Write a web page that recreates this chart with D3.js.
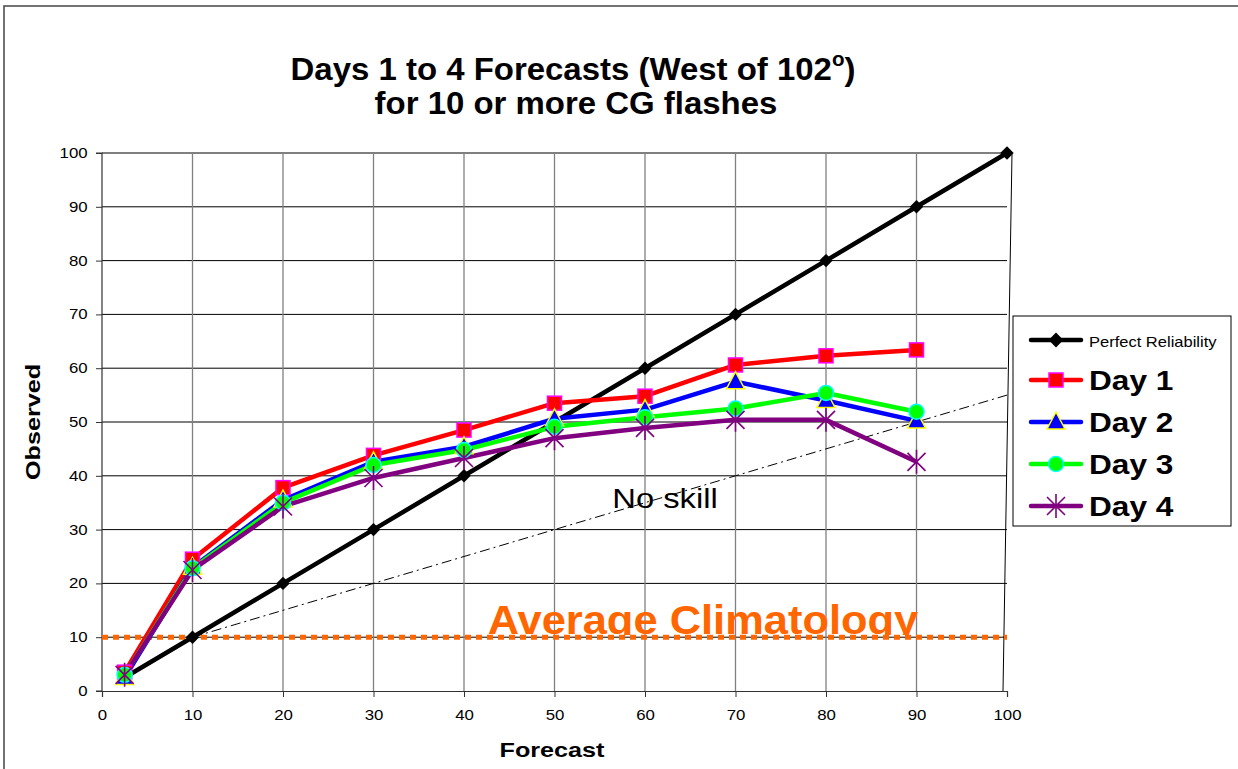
<!DOCTYPE html>
<html><head><meta charset="utf-8">
<script src="https://cdn.jsdelivr.net/npm/d3@7/dist/d3.min.js"></script>
<style>body{margin:0;background:#fff;}svg{display:block;font-family:Arial,"Liberation Sans",sans-serif;}</style>
</head><body>
<script>
const forecast = [2.5,10,20,30,40,50,60,70,80,90];
const perfectX = [2.5,10,20,30,40,50,60,70,80,90,100];
const perfectY = [2.5,10,20,30,40,50,60,70,80,90,100];
const day1 = [3.5,24.5,37.8,43.8,48.5,53.5,54.8,60.6,62.3,63.4];
const day2 = [2.5,23,35.5,42.6,45.4,50.6,52.3,57.5,54,50.2];
const day3 = [3,22.8,35,42,44.8,49.1,50.9,52.5,55.4,51.9];
const day4 = [3,22.5,34.3,39.6,43.3,47,48.9,50.4,50.4,42.6];
const noSkillX = [10,100];
const noSkillY = [10,55];
const climatology = 10;
const xTicks = [0,10,20,30,40,50,60,70,80,90,100];
const yTicks = [0,10,20,30,40,50,60,70,80,90,100];
const seriesNames = ["Day 1","Day 2","Day 3","Day 4"];

const W=1238,H=769;
const svg=d3.select("body").append("svg").attr("width",W).attr("height",H);
const x=d3.scaleLinear().domain([0,100]).range([102,1007]);
const y=d3.scaleLinear().domain([0,100]).range([691,153]);

function txt(parent,tx,ty,str,size,opts={}){
  const gg=parent.append("g").attr("transform",`translate(${tx},${ty})${opts.rotate?` rotate(${opts.rotate})`:""} scale(${opts.sx||1},1)`);
  const t=gg.append("text").attr("font-size",size).attr("text-anchor",opts.anchor||"start")
    .attr("font-weight",opts.bold?"bold":"normal").attr("fill",opts.fill||"#000");
  if(opts.clip) t.attr("clip-path",opts.clip);
  if(str!==null) t.text(str);
  return t;
}

// outer frame
svg.append("path").attr("d",`M4,${H} L4,6 L${W},6`).attr("fill","none").attr("stroke","#444").attr("stroke-width",1.5);

// title
const t=txt(svg,573,80,null,32,{anchor:"middle",bold:true,sx:1.03});
t.append("tspan").text("Days 1 to 4 Forecasts (West of 102");
t.append("tspan").attr("font-size",20).attr("dy",-14).text("o");
t.append("tspan").attr("dy",14).text(")");
txt(svg,576,114,"for 10 or more CG flashes",32,{anchor:"middle",bold:true,sx:1.03});

// grid
const g=svg.append("g");
g.selectAll(".hg").data(yTicks.filter(d=>d>0)).join("line").attr("x1",x(0)).attr("x2",x(100)).attr("y1",d=>y(d)).attr("y2",d=>y(d)).attr("stroke","#000").attr("stroke-width",1);
g.selectAll(".vg").data(xTicks.filter(d=>d>0&&d<100)).join("line").attr("y1",y(0)).attr("y2",y(100)).attr("x1",d=>x(d)).attr("x2",d=>x(d)).attr("stroke","#808080").attr("stroke-width",1.3);
g.append("line").attr("x1",x(100)+5).attr("y1",y(100)).attr("x2",x(100)-4).attr("y2",y(0)).attr("stroke","#000").attr("stroke-width",1);

// axes
const xa=svg.append("g").attr("transform",`translate(0,${y(0)})`).call(d3.axisBottom(x).tickValues(xTicks).tickSize(6).tickPadding(13));
const ya=svg.append("g").attr("transform",`translate(${x(0)},0)`).call(d3.axisLeft(y).tickValues(yTicks).tickSize(6).tickPadding(6));
[xa,ya].forEach(a=>{a.select(".domain").attr("stroke","#333").attr("stroke-width",1.2);a.selectAll(".tick line").attr("stroke","#333");a.selectAll("text").attr("font-size",14).attr("font-family","Arial,'Liberation Sans',sans-serif").attr("fill","#000").attr("transform","scale(1.2,1)");});
ya.select(".domain").attr("d",`M-6,${y(100)}H0V${y(0)}H-6`);

txt(svg,552,757,"Forecast",21,{anchor:"middle",bold:true,sx:1.2});
txt(svg,40,422,"Observed",21,{anchor:"middle",bold:true,sx:1.2,rotate:-90});

// no skill line
svg.append("line").attr("x1",x(noSkillX[0])).attr("y1",y(noSkillY[0])).attr("x2",x(noSkillX[1])).attr("y2",y(noSkillY[1])).attr("stroke","#000").attr("stroke-width",1).attr("stroke-dasharray","10,4,2,4");
txt(svg,665,508,"No skill",28,{anchor:"middle",sx:1.17});

// climatology text clipped at line
svg.append("clipPath").attr("id","clipC").attr("clipPathUnits","userSpaceOnUse").append("rect").attr("x",-500).attr("y",-100).attr("width",1000).attr("height",101);
txt(svg,703,634,"Average Climatology",41,{anchor:"middle",bold:true,sx:1.06,fill:"#ff6600",clip:"url(#clipC)"});
svg.append("line").attr("x1",x(0)).attr("x2",x(100)).attr("y1",y(climatology)).attr("y2",y(climatology)).attr("stroke","#ff6600").attr("stroke-width",5).attr("stroke-dasharray","6,5");

// perfect reliability
const line=d3.line().x(d=>x(d[0])).y(d=>y(d[1]));
const pr=perfectX.map((v,i)=>[v,perfectY[i]]);
svg.append("path").attr("d",line(pr)).attr("fill","none").attr("stroke","#000").attr("stroke-width",4.5);
svg.selectAll(".pd").data(pr.slice(1)).join("path").attr("transform",d=>`translate(${x(d[0])},${y(d[1])}) rotate(45)`).attr("d",d3.symbol().type(d3.symbolSquare).size(90)).attr("fill","#000");

const series=[
 {name:seriesNames[0],vals:day1,color:"#ff0000",marker:"square",fill:"#ff0000",stroke:"#ff00ff"},
 {name:seriesNames[1],vals:day2,color:"#0000ff",marker:"triangle",fill:"#0000ff",stroke:"#ffff00"},
 {name:seriesNames[2],vals:day3,color:"#00ff00",marker:"circle",fill:"#00ff00",stroke:"#00ffff"},
 {name:seriesNames[3],vals:day4,color:"#800080",marker:"star",fill:"none",stroke:"#800080"}
];
function marker(sel,s,cx,cy){
  const gg=sel.append("g").attr("transform",`translate(${cx},${cy})`);
  if(s.marker==="square") gg.append("rect").attr("x",-7).attr("y",-7).attr("width",14).attr("height",14).attr("fill",s.fill).attr("stroke",s.stroke).attr("stroke-width",1.5);
  else if(s.marker==="triangle") gg.append("path").attr("d","M0,-10 L9,7 L-9,7 Z").attr("fill",s.fill).attr("stroke",s.stroke).attr("stroke-width",1.5);
  else if(s.marker==="circle") gg.append("circle").attr("r",7.5).attr("fill",s.fill).attr("stroke",s.stroke).attr("stroke-width",1.5);
  else {
    const r=12;
    gg.append("path").attr("d",`M${-r*0.75},${-r*0.75}L${r*0.75},${r*0.75}M${-r*0.75},${r*0.75}L${r*0.75},${-r*0.75}M0,${-r}L0,${r}`).attr("stroke",s.stroke).attr("stroke-width",1.6).attr("fill","none");
  }
}
series.forEach(s=>{
  const pts=forecast.map((v,i)=>[v,s.vals[i]]);
  svg.append("path").attr("d",line(pts)).attr("fill","none").attr("stroke",s.color).attr("stroke-width",4.5).attr("stroke-linejoin","round");
});
series.forEach(s=>{
  forecast.forEach((v,i)=>marker(svg,s,x(v),y(s.vals[i])));
});

// legend
const lg=svg.append("g");
lg.append("rect").attr("x",1013).attr("y",316).attr("width",218).attr("height",210).attr("fill","#fff").attr("stroke","#000").attr("stroke-width",1);
const ly0=340;
lg.append("line").attr("x1",1031).attr("x2",1081).attr("y1",ly0).attr("y2",ly0).attr("stroke","#000").attr("stroke-width",4.5).attr("stroke-linecap","round");
lg.append("path").attr("transform",`translate(1056,${ly0}) rotate(45)`).attr("d",d3.symbol().type(d3.symbolSquare).size(110)).attr("fill","#000");
txt(lg,1089,347,"Perfect Reliability",14,{sx:1.18});
series.forEach((s,i)=>{
  const yy=380+i*42;
  lg.append("line").attr("x1",1031).attr("x2",1081).attr("y1",yy).attr("y2",yy).attr("stroke",s.color).attr("stroke-width",4.5).attr("stroke-linecap","round");
  marker(lg,s,1056,yy);
  txt(lg,1089,yy+10,s.name,28,{bold:true,sx:1.13});
});
</script>
</body></html>
